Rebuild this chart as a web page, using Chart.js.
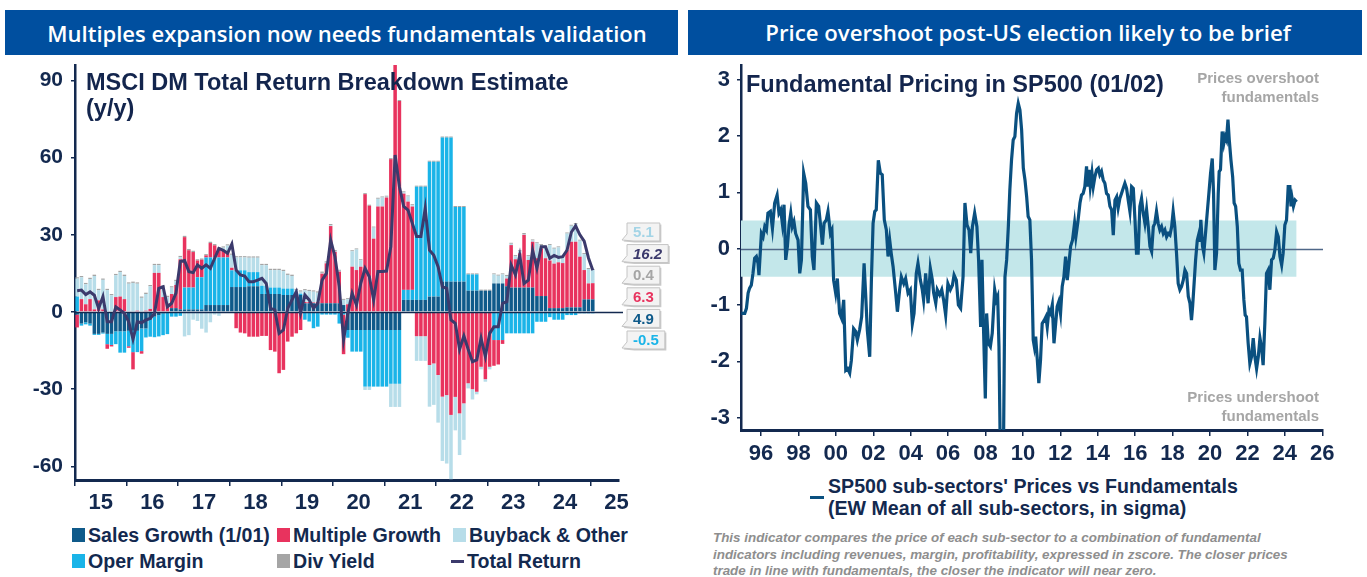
<!DOCTYPE html>
<html>
<head>
<meta charset="utf-8">
<script src="https://cdn.jsdelivr.net/npm/chart.js@4.4.1/dist/chart.umd.min.js"></script>
<style>
  html, body { margin: 0; padding: 0; background: #fff; }
  body { width: 1367px; height: 577px; position: relative; overflow: hidden;
         font-family: 'Liberation Sans', Arial, sans-serif; color: #13294f; }
  .hdr { position: absolute; top: 10px; height: 45px; background: #004f9f; color: #fff;
         font-family: 'Open Sans', 'Noto Sans', sans-serif; font-weight: 600; font-size: 22px;
         display: flex; align-items: center; justify-content: center; box-sizing: border-box; }
  .box { position: absolute; }
  .title { position: absolute; font-weight: bold; font-size: 23.5px; line-height: 26px; color: #13254d; white-space: nowrap; }
  .note { position: absolute; font-weight: bold; font-size: 15px; line-height: 19px; color: #a6a6a6; text-align: right; }
  .leg { position: absolute; font-weight: bold; font-size: 19.6px; line-height: 22px; color: #13294f; white-space: nowrap; }
  .sw { position: absolute; width: 13px; height: 14px; }
  .foot { position: absolute; left: 713px; top: 530px; font-weight: bold; font-style: italic;
          font-size: 13.4px; line-height: 16.5px; color: #8e8e8e; white-space: nowrap; }
</style>
</head>
<body>
<div class="hdr" style="left:5px;width:673px;padding-left:11px;">Multiples expansion now needs fundamentals validation</div>
<div class="hdr" style="left:688px;width:674px;padding-left:6px;font-size:22.2px;">Price overshoot post-US election likely to be brief</div>

<div class="box" style="left:0;top:60px;"><canvas id="left" width="683" height="455"></canvas></div>
<div class="box" style="left:683px;top:60px;"><canvas id="right" width="684" height="410"></canvas></div>

<div class="title" style="left:86px;top:69px;">MSCI DM Total Return Breakdown Estimate<br>(y/y)</div>
<div class="title" style="left:746px;top:71px;">Fundamental Pricing in SP500 (01/02)</div>
<div class="note" style="right:48px;top:68px;">Prices overshoot<br>fundamentals</div>
<div class="note" style="right:48px;top:387px;">Prices undershoot<br>fundamentals</div>

<div id="legendLeft"></div>

<div style="position:absolute;left:810px;top:496px;width:14px;height:3px;background:#0a5080;"></div>
<div class="leg" style="left:828px;top:475px;">SP500 sub-sectors' Prices vs Fundamentals<br>(EW Mean of all sub-sectors, in sigma)</div>

<div class="foot">This indicator compares the price of each sub-sector to a combination of fundamental<br>indicators including revenues, margin, profitability, expressed in zscore. The closer prices<br>trade in line with fundamentals, the closer the indicator will near zero.</div>

<script>
// ---- left chart data: MSCI DM total return breakdown, monthly Jan-15 .. Jan-25 (%) ----
const sales = [
  -1, -4.5, -4, -4.5, -8.5, -8.5, -8, -8.5, -8.5, -7.5, -7.5, -7.5,
  -7.3, -7.3, -7.3, -6.4, -6.4, -3, -1.8, -1.2, -0.5, -0.3, 1.5, 1.5,
  1, 1, 1, 1, 1, 1, 2.7, 2.7, 2.7, 2.7, 2.7, 2.7,
  9.7, 9.7, 9.7, 9.7, 10, 10, 10, 7, 7, 7, 7, 7,
  6.6, 6.6, 6.6, 6.6, 6.6, 3.4, 3.4, 3.4, 3.4, 3.4, 3.4, 3.4,
  3.4, 3.4, 2.7, -7, -7, -7, -7, -7, -7, -7, -7, -7,
  -7, -7, -7, -7, 4.7, 4.7, 4.7, 4.7, 4.7, 4.7, 6, 6,
  6, 11.8, 11.8, 11.8, 11.8, 11.8, 11.8, 8.3, 8.3, 8.3, 8.3, 8.3,
  8.3, 11.1, 11.1, 11.1, 10, 9.5, 9.5, 9.5, 9.5, 9.5, 9.5, 6.2,
  6.2, 6.2, 1.5, 1.5, 1.5, 1.5, 1.8, 1.8, 1.8, 1.8, 4.9, 4.9,
  4.9
];
const operMargin = [
  6, -0.8, -0.8, -0.8, -0.4, -0.4, -0.4, -4, -4.3, -5, -8.3, -8.3,
  -6, -8.3, -8.3, -8.8, -3.5, -6.6, -8, -8.3, -8.5, -8.3, -1.8, -1.8,
  -1.5, 8.5, 8.5, 8.5, 12.5, 12.5, 18.5, 18.5, 18.5, 18.5, 18.5, 18.5,
  6.5, 6.5, 6.5, 6.5, 5.5, 5.5, 5.5, 3.2, 3.2, 2.5, 2.5, 2.5,
  2.5, 2.5, 2.5, 0.5, 0.5, -3, -3.7, -6.3, -5.7, -1, -1, -1,
  -1, -4.5, -1, -3, -8.4, -8.4, -8.4, -22, -22, -22, -22, -22,
  -22, -20.9, -20.9, -20.9, 3.9, 3.9, 3.9, 44, 44, 44, 52.4, 52.4,
  52.4, 56, 56, 56, 29, 29, 29, 6.3, 6.3, 6.3, -0.3, -0.3,
  -0.3, -10.9, -10.9, -10.9, -8.3, -8.3, -8.3, -8.3, -8.3, -8.3, -8.3, -3.8,
  -3.8, -3.8, -2, -3, -3, -3, -1.2, -1.2, -1.2, -0.5, -0.5, -0.5,
  -0.5
];
const multiple = [
  -5, 5, 3, 5, 1, 4.5, 1, -1.8, -0.6, 5.8, 6, 5,
  -0.6, -6.7, 0.5, -1, 0.5, 1.2, 15.2, 15.2, 5.8, 3.3, 5.5, 9,
  19.5, 19.6, 14.5, 13.8, 6.5, 6.8, 0.8, 5.6, 4.7, 3.4, 2.8, 2.1,
  1, -6.3, -8, -8.3, -9.6, -9.6, -9.6, -9.3, -9.3, -14.8, -15.4, -23.8,
  -22.5, -11.5, -9.6, -8.3, -7, 0.5, 0.5, 0.3, 0.5, 11.5, 15.5, 30,
  20, 12.3, -15.4, 3, 17.6, 16.3, 17.6, 45.8, 41.3, 28.5, 41, 41,
  44.5, 59.4, 98, 82, 37.4, 34.3, 32.4, -9.4, -9.4, -9.4, -20.6, -20,
  -24.5, -32.9, -32.3, -40, -33, -39.4, -35.5, -27.7, -30, -31, -21, -25.8,
  -21, -10, -9.5, -1.5, 3, 16.5, 11, 13.3, 20.5, 10.7, 17.8, 14.7,
  18.5, 14.7, 18.5, 17.3, 17.8, 17.5, 22.2, 25.5, 25.5, 19.7, 11.4, 6.2,
  6.3
];
const buyback = [
  7, 8.5, 7.8, 7.8, 13, 4, 11.5, 8.5, 6.5, 8.5, 9.5, 9,
  11, 11.3, 10.5, 5.5, 6.5, 8.8, 3, 3, 4, 2.5, 2.5, 1.5,
  0.8, -9.5, -9, -3, -3.5, -6.5, -8, -4, -1, -1.5, 1, 2.5,
  5, 5, 5, 5, 5.6, 5.6, 5.6, 8, 8, 6.8, 6.8, 6.8,
  6.8, 5.3, 4.9, 1.4, 0.8, 4.5, 4.2, 4.2, 3.6, 0.3, 0.3, 0.3,
  0.3, 0.3, 2, 2, 6, 8, 2.5, -1.3, -1.3, 4.3, 3, 3.5,
  0.3, -9, -9, -9, 0.5, 2, 0.5, -9.6, -9.6, -9.6, -16.2, -16.1,
  -18.5, -25, -26.6, -25, -13, -16.2, -14.2, -2, -4, -1, -1, -1,
  -1, 3.5, 3, 3.5, 1, 0.5, 1.2, 0.8, 0.3, 1.5, 0.5, 5.8,
  1.3, 4.5, 6, 5.8, 5.8, 2.2, 6.5, 6.2, 6.9, 6.2, 6.2, 5.6,
  5.1
];
const divYield = [
  0.5, 0.5, 0.5, 0.5, 0.5, 0.5, 0.5, 0.5, 0.5, 0.5, 0.5, 0.5,
  0.5, 0.5, 0.5, 0.5, 0.5, 0.5, 0.5, 0.5, 0.5, 0.5, 0.5, 0.5,
  0.5, 0.5, 0.5, 0.5, 0.5, 0.5, 0.5, 0.5, 0.5, 0.5, 0.5, 0.5,
  0.5, 0.5, 0.5, 0.5, 0.5, 0.5, 0.5, 0.5, 0.5, 0.5, 0.5, 0.5,
  0.5, 0.5, 0.5, 0.5, 0.5, 0.5, 0.5, 0.5, 0.5, 0.5, 0.5, 0.5,
  0.4, 0.4, 0.4, 0.4, 0.4, 0.4, 0.4, 0.4, 0.4, 0.4, 0.4, 0.4,
  0.4, 0.4, 0.4, 0.4, 0.4, 0.4, 0.4, 0.4, 0.4, 0.4, 0.4, 0.4,
  0.4, 0.4, 0.4, 0.4, 0.4, 0.4, 0.4, 0.4, 0.4, 0.4, 0.4, 0.4,
  0.4, 0.4, 0.4, 0.4, 0.4, 0.4, 0.4, 0.4, 0.4, 0.4, 0.4, 0.4,
  0.4, 0.4, 0.4, 0.4, 0.4, 0.4, 0.4, 0.4, 0.4, 0.4, 0.4, 0.4,
  0.4
];
const totalReturn = [
  8.3, 8.5, 6.8, 7.8, 6.5, 1.4, 6, -3.8, -3.8, 2, 0.8, -0.5,
  -3.8, -10.6, -3.8, -4.2, -3.1, -2.5, -0.5, 9.2, 9.8, 2, 3.4, 7.3,
  19.6, 20, 15.7, 15.3, 18.3, 17, 18.3, 17, 20.9, 24.7, 24, 22.8,
  26.4, 16.3, 14.4, 14, 11.8, 11.8, 12.4, 13.1, 11.1, 1.4, 0.8, -8.3,
  -7, 1.4, 4.7, 7.9, -0.5, 6.6, 4.7, 1.4, 3.4, 12.4, 15, 28,
  21.5, 9.8, -10.9, -0.5, 7.3, 2.7, 11.1, 17, 13.7, 4.7, 15.7, 15.7,
  15.9, 25.4, 61, 48.7, 41, 39.6, 34.5, 29.3, 29.3, 40.3, 24, 22,
  17.6, 9.8, 9.2, -3.1, -4.4, -14.5, -9.3, -14.5, -19.3, -18.6, -10.2, -17.3,
  -8.3, -5.7, -5.7, 3.4, 4, 18.3, 14.4, 22, 11.1, 12.4, 24, 17,
  25.4, 25.4, 20.9, 22, 21.2, 21.5, 24, 31, 33.5, 30, 27.5, 21,
  16.2
];
const leftYearTicks = [2015, 2016, 2017, 2018, 2019, 2020, 2021, 2022, 2023, 2024, 2025];
const leftValueTicks = [-60, -30, 0, 30, 60, 90];

// month mid-points, Jan 2015 onwards
const months = [];
for (let i = 0; i < sales.length; i++) months.push(2015 + (i + 0.5) / 12);

// ---- right chart data: fundamental pricing in SP500 (sigma) ----
const fundamentalPricing = [
  [1994.95,-1.15],[1995.13,-1.15],[1995.22,-1.06],[1995.31,-0.79],[1995.39,-0.70],[1995.48,-0.65],[1995.57,-0.44],
  [1995.66,-0.17],[1995.75,-0.14],[1995.84,-0.26],[1995.89,-0.47],[1996.02,0.27],[1996.11,0.21],[1996.20,0.39],
  [1996.29,0.33],[1996.37,0.63],[1996.50,0.66],[1996.61,0.36],[1996.73,0.81],[1996.86,0.95],[1996.96,0.63],
  [1997.05,0.69],[1997.14,0.45],[1997.23,0.78],[1997.32,-0.20],[1997.41,0.04],[1997.50,0.42],[1997.59,0.63],
  [1997.67,0.39],[1997.76,0.48],[1997.85,0.27],[1997.98,0.15],[1998.07,-0.44],[1998.16,-0.20],[1998.28,1.34],
  [1998.39,1.16],[1998.51,0.75],[1998.64,0.69],[1998.74,-0.14],[1998.83,-0.38],[1998.96,0.81],[1999.08,0.75],
  [1999.19,0.39],[1999.28,0.07],[1999.37,0.45],[1999.49,0.51],[1999.58,0.66],[1999.71,0.27],[1999.79,0.33],
  [1999.88,-0.56],[1999.99,-0.79],[2000.08,-0.53],[2000.20,-1.15],[2000.31,-1.24],[2000.42,-0.91],[2000.53,-2.16],
  [2000.63,-2.13],[2000.74,-2.21],[2000.83,-1.98],[2000.95,-1.42],[2001.06,-1.47],[2001.15,-1.62],[2001.27,-1.44],
  [2001.38,-1.21],[2001.51,-0.26],[2001.59,-0.79],[2001.68,-1.44],[2001.81,-1.92],[2001.90,-0.56],[2001.99,0.45],
  [2002.08,0.66],[2002.16,0.69],[2002.27,1.57],[2002.38,1.34],[2002.48,1.31],[2002.59,0.51],[2002.70,0.33],
  [2002.79,-0.14],[2002.88,0.15],[2002.97,-0.11],[2003.06,-0.32],[2003.20,-0.79],[2003.29,-1.12],[2003.41,-0.73],
  [2003.50,-0.50],[2003.63,-0.62],[2003.73,-0.53],[2003.86,-0.79],[2003.98,-0.73],[2004.09,-1.33],[2004.18,-1.15],
  [2004.30,-0.44],[2004.39,-0.26],[2004.52,-0.56],[2004.62,-0.73],[2004.69,-0.91],[2004.80,-0.44],[2004.93,-0.97],
  [2005.05,-0.35],[2005.16,-0.56],[2005.23,-0.79],[2005.34,-0.97],[2005.42,-0.73],[2005.55,-0.82],[2005.66,-0.73],
  [2005.76,-0.91],[2005.87,-1.18],[2005.99,-0.62],[2006.12,-0.73],[2006.23,-0.65],[2006.32,-0.47],[2006.44,-0.56],
  [2006.55,-1.00],[2006.67,-1.06],[2006.80,-0.50],[2006.90,0.81],[2007.01,0.42],[2007.12,0.33],[2007.21,-0.08],
  [2007.30,0.39],[2007.42,0.63],[2007.54,0.39],[2007.63,-0.20],[2007.74,-1.39],[2007.81,-0.20],[2007.90,-1.50],
  [2007.99,-2.66],[2008.06,-1.15],[2008.15,-1.68],[2008.26,-1.74],[2008.36,-1.50],[2008.49,-0.73],[2008.58,-0.91],
  [2008.65,-0.85],[2008.72,-1.74],[2008.79,-3.6],[2008.96,-3.6],[2009.04,-0.50],[2009.13,-0.20],[2009.22,0.39],
  [2009.30,1.04],[2009.39,1.57],[2009.48,1.93],[2009.57,1.99],[2009.66,2.40],[2009.75,2.58],[2009.84,2.46],
  [2009.93,2.11],[2010.02,1.43],[2010.11,1.22],[2010.20,0.92],[2010.28,0.57],[2010.37,0.51],[2010.46,-0.20],
  [2010.55,-1.62],[2010.61,-1.74],[2010.68,-1.56],[2010.77,-1.98],[2010.85,-2.39],[2010.94,-1.98],[2011.03,-1.33],
  [2011.14,-1.27],[2011.23,-1.21],[2011.30,-1.39],[2011.39,-1.09],[2011.48,-1.15],[2011.57,-1.00],[2011.66,-1.68],
  [2011.75,-1.33],[2011.83,-1.03],[2011.92,-0.94],[2012.01,-1.15],[2012.10,-0.67],[2012.19,-0.50],[2012.28,-0.14],
  [2012.37,-0.56],[2012.46,-0.26],[2012.55,0.04],[2012.65,0.15],[2012.76,0.45],[2012.83,0.21],[2012.94,0.48],
  [2013.05,0.81],[2013.13,0.95],[2013.22,0.98],[2013.31,1.10],[2013.40,1.46],[2013.46,1.10],[2013.53,1.40],
  [2013.60,1.10],[2013.69,1.34],[2013.76,1.10],[2013.85,1.28],[2013.94,1.40],[2014.03,1.43],[2014.11,1.31],
  [2014.20,1.37],[2014.29,1.22],[2014.38,1.16],[2014.47,0.98],[2014.56,0.95],[2014.65,0.75],[2014.74,0.69],
  [2014.83,0.24],[2014.92,0.86],[2015.01,0.92],[2015.09,0.72],[2015.18,0.89],[2015.27,0.98],[2015.36,1.07],
  [2015.45,1.16],[2015.54,1.07],[2015.63,0.86],[2015.72,0.66],[2015.81,1.10],[2015.90,1.07],[2015.99,0.51],
  [2016.07,-0.08],[2016.16,-0.08],[2016.25,0.75],[2016.34,0.89],[2016.43,0.63],[2016.52,0.45],[2016.61,0.69],
  [2016.70,0.39],[2016.79,0.04],[2016.88,-0.05],[2016.97,0.39],[2017.05,0.45],[2017.14,0.66],[2017.23,0.45],
  [2017.32,0.33],[2017.41,0.39],[2017.50,0.27],[2017.59,0.33],[2017.68,0.21],[2017.77,0.27],[2017.86,0.24],
  [2017.95,0.39],[2018.03,0.66],[2018.12,0.39],[2018.21,-0.08],[2018.30,-0.62],[2018.39,-0.73],[2018.48,-0.67],
  [2018.57,-0.56],[2018.66,-0.38],[2018.75,-0.44],[2018.84,-0.85],[2018.93,-0.97],[2019.01,-1.27],[2019.07,-1.03],
  [2019.14,-0.67],[2019.23,-0.20],[2019.32,0.15],[2019.41,0.27],[2019.46,0.12],[2019.51,0.51],[2019.60,0.04],
  [2019.67,-0.08],[2019.76,0.27],[2019.85,0.63],[2019.94,0.98],[2020.03,1.34],[2020.12,1.60],[2020.19,0.98],
  [2020.26,-0.38],[2020.35,-0.08],[2020.44,0.98],[2020.49,1.37],[2020.56,1.40],[2020.65,2.08],[2020.74,1.87],
  [2020.81,1.99],[2020.88,1.93],[2020.96,2.29],[2021.03,1.93],[2021.12,1.57],[2021.21,1.28],[2021.29,0.81],
  [2021.37,0.75],[2021.46,0.39],[2021.54,-0.26],[2021.63,-0.38],[2021.72,-0.38],[2021.81,-0.91],[2021.88,-1.18],
  [2021.95,-1.21],[2022.04,-1.68],[2022.13,-2.04],[2022.22,-1.92],[2022.31,-1.59],[2022.40,-1.92],[2022.49,-2.13],
  [2022.58,-1.92],[2022.67,-1.59],[2022.76,-1.77],[2022.84,-2.07],[2022.93,-1.33],[2023.02,-0.44],[2023.11,-0.38],
  [2023.20,-0.73],[2023.29,-0.20],[2023.38,-0.17],[2023.47,-0.02],[2023.56,0.30],[2023.65,0.21],[2023.74,-0.14],
  [2023.83,-0.29],[2023.91,-0.08],[2024.00,0.42],[2024.09,0.51],[2024.18,1.10],[2024.27,1.10],[2024.33,0.75],
  [2024.39,0.89],[2024.46,0.75],[2024.55,0.86],[2024.63,0.83]
];
const fairBand = [0.5, -0.5];          // +/- 0.5 sigma zone
const fairBandSpan = [1994.93, 2024.63];
const rightYearTicks = [1996, 1998, 2000, 2002, 2004, 2006, 2008, 2010, 2012, 2014, 2016, 2018, 2020, 2022, 2024, 2026];
const rightValueTicks = [-3, -2, -1, 0, 1, 2, 3];

// ---- styles ----
const navy = '#13294f';
const colors = {
  sales: '#0f5a8a',
  multiple: '#e8335e',
  buyback: '#b7dde9',
  oper: '#1ab4e8',
  div: '#a5a5a5',
  total: '#3b3a6c',
  fp: '#0a5080',
  band: '#c3e7ea'
};

Chart.defaults.font.family = "'Liberation Sans', Arial, sans-serif";
Chart.defaults.color = navy;

const xy = arr => arr.map((v, i) => ({ x: months[i], y: v }));

// keep the plot area exactly where the layout puts it
const fixWidth = w => s => { s.width = w; s.paddingTop = 0; s.paddingBottom = 0; };
const fixHeight = h => s => { s.height = h; s.paddingLeft = 0; s.paddingRight = 0; };

// zero line drawn just before the given dataset
const zeroLine = {
  id: 'zeroLine',
  beforeDatasetDraw(chart, args, opts) {
    if (args.index !== opts.before) return;
    const { ctx, chartArea } = chart;
    const y = Math.round(chart.scales.y.getPixelForValue(0)) + 0.5;
    ctx.save();
    ctx.strokeStyle = opts.color;
    ctx.lineWidth = opts.width;
    ctx.beginPath();
    ctx.moveTo(chartArea.left, y);
    ctx.lineTo(chartArea.right + (opts.extra || 0), y);
    ctx.stroke();
    ctx.restore();
  }
};

// last-value callouts to the right of the bars
const callouts = {
  id: 'callouts',
  afterDraw(chart, args, opts) {
    const { ctx } = chart;
    const zeroY = chart.scales.y.getPixelForValue(0);
    const x0 = chart.chartArea.right + 8;
    opts.order.forEach((idx, k) => {
      const ds = chart.data.datasets[idx];
      const v = ds.data[ds.data.length - 1].y;
      const txt = v.toFixed(1);
      const cy = zeroY - 80 + k * 21.6;
      ctx.save();
      ctx.font = (ds.italicLabel ? 'italic ' : '') + 'bold 15px "Liberation Sans", Arial, sans-serif';
      const w = ctx.measureText(txt).width + 12;
      const h = 9;
      const path = (dx) => {
        ctx.beginPath();
        ctx.moveTo(x0 + dx, cy - h + dx);
        ctx.lineTo(x0 + w + dx, cy - h + dx);
        ctx.lineTo(x0 + w + dx, cy + h + dx);
        ctx.lineTo(x0 + 6 + dx, cy + h + dx);
        ctx.lineTo(x0 - 5 + dx, cy + h - 1 + dx);
        ctx.lineTo(x0 + dx, cy + 2 + dx);
        ctx.closePath();
      };
      path(1.5);
      ctx.fillStyle = '#c9c9c9';
      ctx.fill();
      path(0);
      ctx.fillStyle = '#f3f3f3';
      ctx.fill();
      ctx.strokeStyle = '#c4c4c4';
      ctx.lineWidth = 1;
      ctx.stroke();
      ctx.fillStyle = ds.labelColor;
      ctx.textBaseline = 'middle';
      ctx.fillText(txt, x0 + 6, cy + 1);
      ctx.restore();
    });
  }
};

const tickFont = { size: 22, weight: 'bold' };

new Chart(document.getElementById('left'), {
  type: 'bar',
  data: {
    datasets: [
      { type: 'line', label: 'Total Return', data: xy(totalReturn), borderColor: colors.total,
        borderWidth: 3, pointRadius: 0, tension: 0, order: 0, stack: 'tr',
        labelColor: colors.total, italicLabel: true },
      { label: 'Sales Growth (1/01)', data: xy(sales), backgroundColor: colors.sales, order: 1, stack: 'bars', labelColor: colors.sales },
      { label: 'Oper Margin', data: xy(operMargin), backgroundColor: colors.oper, order: 1, stack: 'bars', labelColor: colors.oper },
      { label: 'Multiple Growth', data: xy(multiple), backgroundColor: colors.multiple, order: 1, stack: 'bars', labelColor: colors.multiple },
      { label: 'Buyback & Other', data: xy(buyback), backgroundColor: colors.buyback, order: 1, stack: 'bars', labelColor: '#a3d4e6' },
      { label: 'Div Yield', data: xy(divYield), backgroundColor: colors.div, order: 1, stack: 'bars', labelColor: colors.div }
    ]
  },
  options: {
    responsive: false,
    animation: false,
    devicePixelRatio: 1,
    layout: { padding: { left: 0, right: 64, top: 5, bottom: 0 } },
    datasets: { bar: { categoryPercentage: 0.82, barPercentage: 1 } },
    plugins: {
      legend: { display: false },
      tooltip: { enabled: false },
      zeroLine: { before: 0, color: navy, width: 1.5, extra: 4 },
      callouts: { order: [4, 0, 5, 3, 1, 2] }
    },
    scales: {
      x: {
        type: 'linear', min: 2015, max: 2025.55, stacked: true, offset: false,
        afterFit: fixHeight(35),
        afterBuildTicks: s => { s.ticks = leftYearTicks.map(v => ({ value: v })); },
        grid: { drawOnChartArea: false, tickLength: 6, color: navy, lineWidth: 1.5, offset: false },
        border: { color: navy, width: 3 },
        ticks: { font: tickFont, color: navy, padding: 4, labelOffset: 25.8, maxRotation: 0,
                 autoSkip: false, callback: v => String(v).slice(2) }
      },
      y: {
        min: -65.3, max: 96, stacked: true,
        afterFit: fixWidth(75),
        afterBuildTicks: s => { s.ticks = leftValueTicks.map(v => ({ value: v })); },
        grid: { drawOnChartArea: false, tickLength: 4, color: navy, lineWidth: 1.5 },
        border: { color: navy, width: 2.5 },
        ticks: { font: { size: 21, weight: 'bold' }, color: navy, padding: 8 }
      }
    }
  },
  plugins: [zeroLine, callouts]
});

new Chart(document.getElementById('right'), {
  type: 'line',
  data: {
    datasets: [
      { label: 'band', data: fairBandSpan.map(x => ({ x, y: fairBand[0] })), borderWidth: 0, pointRadius: 0,
        backgroundColor: colors.band, fill: { target: { value: fairBand[1] } }, order: 1 },
      { label: "SP500 sub-sectors' Prices vs Fundamentals", data: fundamentalPricing.map(p => ({ x: p[0], y: p[1] })),
        borderColor: colors.fp, borderWidth: 3.2, pointRadius: 0, tension: 0, fill: false, order: 0 }
    ]
  },
  options: {
    responsive: false,
    animation: false,
    devicePixelRatio: 1,
    layout: { padding: { left: 0, right: 44, top: 5, bottom: 0 } },
    plugins: {
      legend: { display: false },
      tooltip: { enabled: false },
      zeroLine: { before: 1, color: '#4f6788', width: 1.5, extra: 0 }
    },
    scales: {
      x: {
        type: 'linear', min: 1994.93, max: 2026.04, offset: false,
        afterFit: fixHeight(40),
        afterBuildTicks: s => { s.ticks = rightYearTicks.map(v => ({ value: v })); },
        grid: { drawOnChartArea: false, tickLength: 6, color: navy, lineWidth: 1.5 },
        border: { color: navy, width: 3 },
        ticks: { font: tickFont, color: navy, padding: 5, maxRotation: 0, autoSkip: false,
                 callback: v => String(v).slice(2) }
      },
      y: {
        min: -3.22, max: 3.26,
        afterFit: fixWidth(58),
        afterBuildTicks: s => { s.ticks = rightValueTicks.map(v => ({ value: v })); },
        grid: { drawOnChartArea: false, tickLength: 4, color: navy, lineWidth: 1.5 },
        border: { color: navy, width: 2.5 },
        ticks: { font: { size: 22, weight: 'bold' }, color: navy, padding: 7 }
      }
    }
  },
  plugins: [zeroLine]
});

// ---- left legend (3 columns x 2 rows) ----
const legendItems = [
  { text: 'Sales Growth (1/01)', color: colors.sales, x: 72, row: 0 },
  { text: 'Multiple Growth', color: colors.multiple, x: 277, row: 0 },
  { text: 'Buyback & Other', color: colors.buyback, x: 453, row: 0 },
  { text: 'Oper Margin', color: colors.oper, x: 72, row: 1 },
  { text: 'Div Yield', color: colors.div, x: 277, row: 1 },
  { text: 'Total Return', color: colors.total, x: 451, row: 1, line: true }
];
const legendEl = document.getElementById('legendLeft');
legendItems.forEach(it => {
  const cy = 535 + it.row * 26;
  const sw = document.createElement('div');
  sw.className = 'sw';
  sw.style.background = it.color;
  sw.style.left = it.x + 'px';
  if (it.line) {
    sw.style.top = (cy - 1) + 'px'; sw.style.height = '3px';
  } else {
    sw.style.top = (cy - 7) + 'px';
  }
  legendEl.appendChild(sw);
  const t = document.createElement('div');
  t.className = 'leg';
  t.textContent = it.text;
  t.style.left = (it.x + 16) + 'px';
  t.style.top = (cy - 11) + 'px';
  legendEl.appendChild(t);
});
</script>
</body>
</html>
